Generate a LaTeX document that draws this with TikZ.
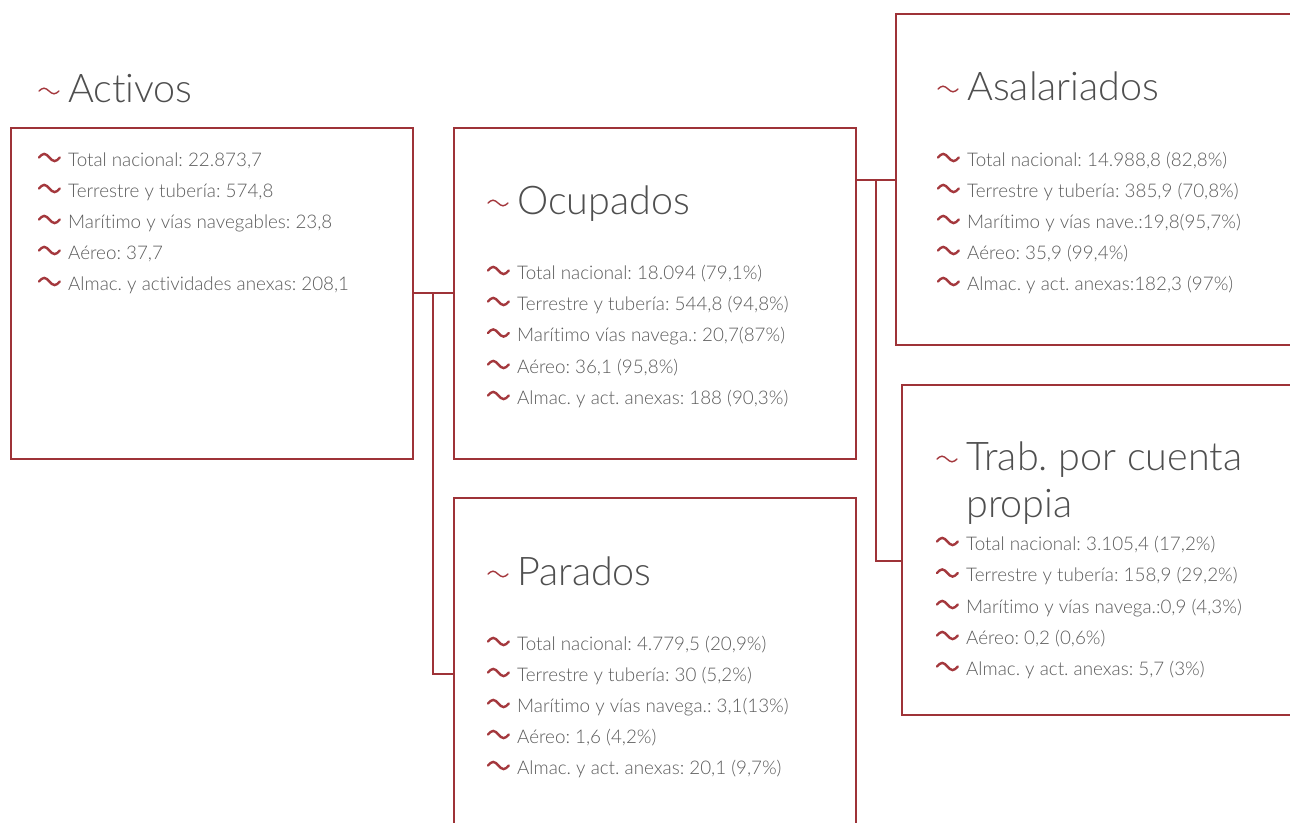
\documentclass[tikz,border=0pt]{standalone}
\usepackage{fontspec}
\setmainfont{Lato Light}[Ligatures={NoCommon,NoRequired,NoContextual}]
\frenchspacing
\begin{document}
\definecolor{bord}{HTML}{9E3338}
\definecolor{tild}{HTML}{A4383D}
\definecolor{txt}{HTML}{4F4F4F}
\definecolor{itxt}{HTML}{5C5C5C}
\tikzset{
  box/.style={draw=bord, line width=2.8pt, rectangle, inner sep=0pt, outer sep=0pt, anchor=north west},
  conn/.style={draw=bord, line width=2.8pt},
  ttl/.style={anchor=base west, inner sep=0pt, text=txt, font=\fontsize{39.5}{42}\selectfont},
  itm/.style={anchor=base west, inner sep=0pt, text=itxt, font=\fontsize{18.8}{22}\selectfont},
  itil/.pic={\draw[tild, line width=2.4pt, line cap=round] (0,0) sin (5.2,-3.6) cos (10.4,0) sin (15.6,3.6) cos (20.8,0);},
  ttil/.pic={\draw[tild, line width=1.4pt, line cap=round] (0,0) sin (5,-2.8) cos (10,0) sin (15,2.8) cos (20,0);},
}
\newcommand\myitem[4]{\pic at (#2-29,#3-8.5) {itil}; \node[itm] (#1) at (#2,#3) {#4};}
\newcommand\mytitle[4]{\pic at (#2-29,#3-11) {ttil}; \node[ttl] (#1) at (#2,#3) {#4};}
\begin{tikzpicture}[x=1pt,y=-1pt]
\clip (0,0) rectangle (1290,822);
\fill[white] (0,0) rectangle (1290,822);
% boxes
\node[box, minimum width=402pt, minimum height=331pt] (act) at (11,128) {};
\node[box, minimum width=402pt, minimum height=331pt] (ocu) at (454,128) {};
\node[box, minimum width=402pt, minimum height=400pt] (par) at (454,498) {};
\node[box, minimum width=460pt, minimum height=331pt] (asa) at (896,14) {};
\node[box, minimum width=460pt, minimum height=330pt] (trab) at (902,385) {};
% connectors
\coordinate (j1) at (433,293);
\coordinate (j2) at (433,674);
\coordinate (k1) at (876,180);
\coordinate (k2) at (876,561);
\draw[conn] (act.east |- j1) -- (ocu.west |- j1);
\draw[conn] (j1) -- (j2) -- (par.west |- j2);
\draw[conn] (ocu.east |- k1) -- (asa.west |- k1);
\draw[conn] (k1) -- (k2) -- (trab.west |- k2);
% Activos
\mytitle{tact}{68}{102}{Activos}
\myitem{a1}{68}{166}{Total nacional: 22.873,7}
\myitem{a2}{68}{197}{Terrestre y tubería: 574,8}
\myitem{a3}{68}{228}{Marítimo y vías navegables: 23,8}
\myitem{a4}{68}{259}{Aéreo: 37,7}
\myitem{a5}{68}{290}{Almac. y actividades anexas: 208,1}
% Ocupados
\mytitle{tocu}{517}{214}{Ocupados}
\myitem{o1}{517}{279}{Total nacional: 18.094 (79,1\%)}
\myitem{o2}{517}{310}{Terrestre y tubería: 544,8 (94,8\%)}
\myitem{o3}{517}{341.5}{Marítimo vías navega.: 20,7(87\%)}
\myitem{o4}{517}{373}{Aéreo: 36,1 (95,8\%)}
\myitem{o5}{517}{404}{Almac. y act. anexas: 188 (90,3\%)}
% Parados
\mytitle{tpar}{517}{585}{Parados}
\myitem{p1}{517}{650}{Total nacional: 4.779,5 (20,9\%)}
\myitem{p2}{517}{681}{Terrestre y tubería: 30 (5,2\%)}
\myitem{p3}{517}{712}{Marítimo y vías navega.: 3,1(13\%)}
\myitem{p4}{517}{743}{Aéreo: 1,6 (4,2\%)}
\myitem{p5}{517}{774}{Almac. y act. anexas: 20,1 (9,7\%)}
% Asalariados
\mytitle{tasa}{967}{100}{Asalariados}
\myitem{s1}{967}{166}{Total nacional: 14.988,8 (82,8\%)}
\myitem{s2}{967}{197}{Terrestre y tubería: 385,9 (70,8\%)}
\myitem{s3}{967}{228}{Marítimo y vías nave.:19,8(95,7\%)}
\myitem{s4}{967}{259}{Aéreo: 35,9 (99,4\%)}
\myitem{s5}{967}{290}{Almac. y act. anexas:182,3 (97\%)}
% Trab
\mytitle{ttrab}{966}{470}{Trab. por cuenta}
\node[ttl] (ttrab2) at (966,517) {propia};
\myitem{t1}{966}{550}{Total nacional: 3.105,4 (17,2\%)}
\myitem{t2}{966}{581.5}{Terrestre y tubería: 158,9 (29,2\%)}
\myitem{t3}{966}{613}{Marítimo y vías navega.:0,9 (4,3\%)}
\myitem{t4}{966}{644}{Aéreo: 0,2 (0,6\%)}
\myitem{t5}{966}{675}{Almac. y act. anexas: 5,7 (3\%)}
\end{tikzpicture}
\end{document}
